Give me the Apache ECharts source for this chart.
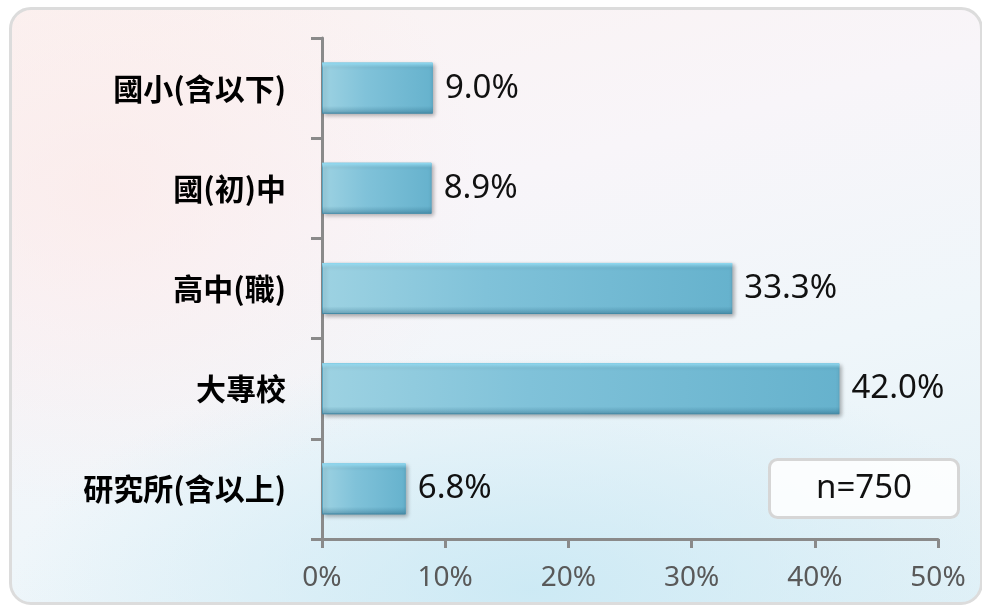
<!DOCTYPE html>
<html>
<head>
<meta charset="utf-8">
<script src="https://cdn.jsdelivr.net/npm/echarts@6/dist/echarts.min.js"></script>
<style>
  html, body { margin: 0; padding: 0; background: #fff; }
  #wrap { position: relative; width: 982px; height: 608px; overflow: hidden; }
  #card {
    position: absolute; left: 9px; top: 7px; width: 968px; height: 592px;
    border: 3px solid #dcdcdc; border-radius: 22px;
    background:
      radial-gradient(ellipse 380px 320px at 90px 180px, rgba(252,232,230,0.6), rgba(252,232,230,0) 100%),
      radial-gradient(ellipse 520px 240px at 520px 580px, rgba(200,232,244,0.85), rgba(200,232,244,0) 100%),
      linear-gradient(165deg, #fbf2f1 0%, #f8f5f9 35%, #eff6fa 65%, #e2f1f7 100%);
  }
  #chart { position: absolute; left: 0; top: 0; width: 982px; height: 608px; }
</style>
</head>
<body>
<div id="wrap">
  <div id="card"></div>
  <div id="chart"></div>
</div>
<script>
const categories = ['國小(含以下)', '國(初)中', '高中(職)', '大專校', '研究所(含以上)']
const values = [9.0, 8.9, 33.3, 42.0, 6.8]
const xTicks = [0, 10, 20, 30, 40, 50]
const sampleNote = 'n=750'

const chart = echarts.init(document.getElementById('chart'))

const axisGray = '#8a8a8a'

chart.setOption({
  animation: false,
  backgroundColor: 'transparent',
  grid: { left: 322, right: 44, top: 38, bottom: 69 },
  xAxis: {
    type: 'value',
    min: xTicks[0],
    max: xTicks[xTicks.length - 1],
    interval: 10,
    splitLine: { show: false },
    axisLine: { show: true, lineStyle: { color: axisGray, width: 3 } },
    axisTick: { show: true, length: 9, lineStyle: { color: axisGray, width: 3 } },
    axisLabel: {
      color: '#595959', fontSize: 28, margin: 25,
      fontFamily: '"Noto Sans", sans-serif',
      formatter: v => v + '%',
    },
  },
  yAxis: {
    type: 'category',
    data: categories,
    inverse: true,
    axisLine: { show: true, lineStyle: { color: axisGray, width: 3 } },
    axisTick: { show: true, length: 11, lineStyle: { color: axisGray, width: 3 } },
    axisLabel: {
      color: '#000', fontSize: 30, fontWeight: 'bold', margin: 36,
      fontFamily: '"Noto Sans CJK TC", sans-serif',
    },
  },
  series: [
    {
      type: 'bar',
      data: values,
      barWidth: '51%',
      itemStyle: {
        color: new echarts.graphic.LinearGradient(0, 0, 1, 0, [
          { offset: 0, color: '#9dd2e2' },
          { offset: 0.4, color: '#80c2d9' },
          { offset: 1, color: '#66b2cd' },
        ]),
        borderColor: '#5aa6c2',
        borderWidth: 1,
        shadowColor: 'rgba(0,0,0,0.3)',
        shadowBlur: 4,
        shadowOffsetX: 2,
        shadowOffsetY: 2,
      },
    },
    {
      // bevel overlay: light top edge, darker bottom edge
      type: 'bar',
      data: values,
      barWidth: '51%',
      barGap: '-100%',
      silent: true,
      itemStyle: {
        color: new echarts.graphic.LinearGradient(0, 0, 0, 1, [
          { offset: 0, color: 'rgba(150,222,245,0.95)' },
          { offset: 0.1, color: 'rgba(150,222,245,0.0)' },
          { offset: 0.85, color: 'rgba(20,80,110,0.0)' },
          { offset: 1, color: 'rgba(20,80,110,0.35)' },
        ]),
      },
      label: {
        show: true,
        position: 'right',
        distance: 12,
        color: '#111',
        fontSize: 33,
        fontFamily: '"Noto Sans", sans-serif',
        formatter: p => p.value.toFixed(1) + '%',
      },
    },
  ],
  graphic: [
    {
      type: 'group',
      left: 768,
      top: 458,
      children: [
        {
          type: 'rect',
          shape: { x: 0, y: 0, width: 189, height: 58, r: 8 },
          style: { fill: 'rgba(255,255,255,0.85)', stroke: '#d6d6d6', lineWidth: 3 },
        },
        {
          type: 'text',
          x: 94.5,
          y: 29,
          style: {
            text: sampleNote, fill: '#111', fontSize: 33,
            fontFamily: '"Noto Sans", sans-serif',
            align: 'center', verticalAlign: 'middle',
          },
        },
      ],
    },
  ],
})
</script>
</body>
</html>
